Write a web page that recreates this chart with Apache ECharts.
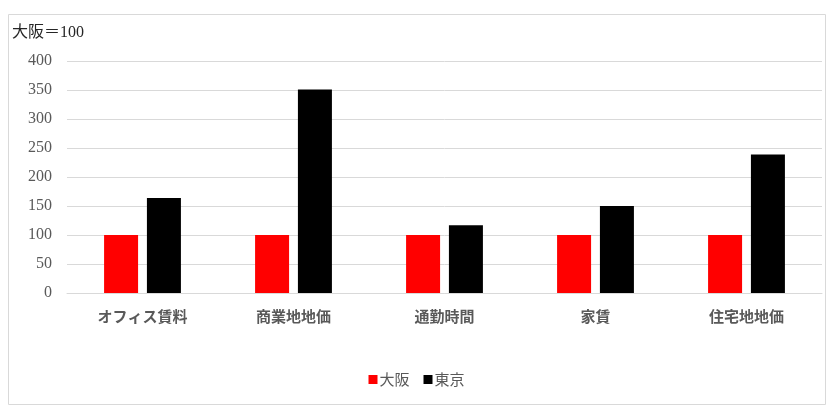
<!DOCTYPE html>
<html>
<head>
<meta charset="utf-8">
<script src="https://cdn.jsdelivr.net/npm/echarts@6/dist/echarts.min.js"></script>
<style>
html,body{margin:0;padding:0;background:#fff;}
#chart{width:833px;height:417px;}
</style>
</head>
<body>
<div id="chart"></div>
<script>
const categories = ['オフィス賃料', '商業地地価', '通勤時間', '家賃', '住宅地地価'];
const osaka = [100, 100, 100, 100, 100];
const tokyo = [164, 351, 117, 150, 239];
const seriesNames = ['大阪', '東京'];
const yTitle = '大阪＝100';

const chart = echarts.init(document.getElementById('chart'));
chart.setOption({
  animation: false,
  graphic: [{
    type: 'rect',
    shape: {x: 8.5, y: 14.5, width: 817, height: 390},
    style: {fill: 'none', stroke: '#d9d9d9', lineWidth: 1},
    silent: true,
    z: -1
  }, {
    type: 'text',
    left: 12,
    top: 25,
    style: {
      text: yTitle,
      fill: '#262626',
      font: '16px "Liberation Serif", "Noto Sans CJK JP"'
    }
  }],
  grid: {left: 67, right: 11, top: 61, bottom: 124, containLabel: false},
  legend: {
    data: seriesNames,
    top: 367,
    left: 'center',
    icon: 'rect',
    itemWidth: 9,
    itemHeight: 9,
    itemGap: 14,
    textStyle: {color: '#595959', fontSize: 15, fontFamily: '"Noto Sans CJK JP"', padding: [0, 0, 0, -3]}
  },
  xAxis: {
    type: 'category',
    data: categories,
    axisLine: {lineStyle: {color: '#d9d9d9'}},
    axisTick: {show: false},
    axisLabel: {color: '#595959', fontSize: 15, fontWeight: 'bold', fontFamily: '"Noto Sans CJK JP"', margin: 16}
  },
  yAxis: {
    type: 'value',
    min: 0,
    max: 400,
    interval: 50,
    axisLine: {show: false},
    axisTick: {show: false},
    splitLine: {lineStyle: {color: '#d9d9d9'}},
    axisLabel: {color: '#595959', fontSize: 16, fontFamily: '"Liberation Serif"', margin: 15}
  },
  series: [{
    name: seriesNames[0],
    type: 'bar',
    data: osaka,
    barWidth: 34,
    barGap: '26%',
    itemStyle: {color: '#ff0000'}
  }, {
    name: seriesNames[1],
    type: 'bar',
    data: tokyo,
    barWidth: 34,
    barGap: '26%',
    itemStyle: {color: '#000000'}
  }]
});
</script>
</body>
</html>
